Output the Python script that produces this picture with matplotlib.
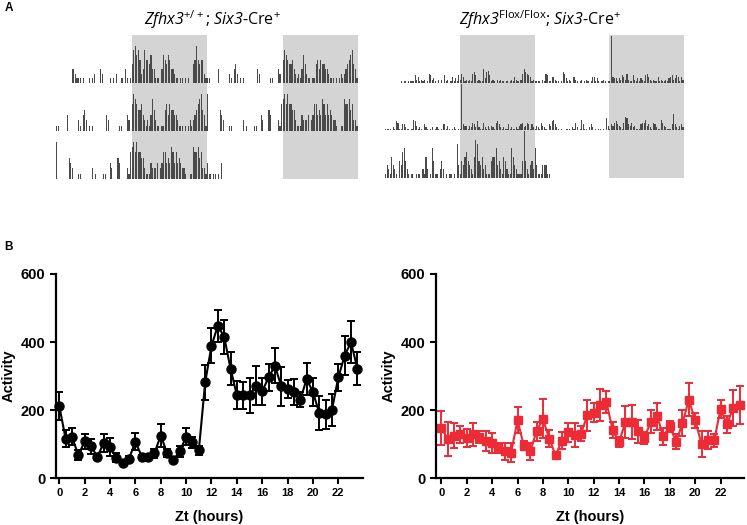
import numpy as np
import matplotlib
matplotlib.use('Agg')
import matplotlib.pyplot as plt
from matplotlib.patches import Rectangle

plt.rcParams['font.family'] = ['Liberation Sans', 'DejaVu Sans']
plt.rcParams['mathtext.fontset'] = 'custom'
plt.rcParams['mathtext.rm'] = 'Open Sans'
plt.rcParams['mathtext.sf'] = 'Open Sans:italic'  # italic incl. digits (gene names)

# ---- panel A: activity per 15-min bin, one string per recorded day (base-36 digits)
# day 1 starts late (string ends at 24 h), last day stops early (string starts at 0 h)
WT_DAY1 = ("3321110100" "0101200032" "0000101020" "01103101"
           "4786752375" "5463311103" "6546533211" "0110101004" "58545521")
WT_DAY2 = ("1100000300" "0000210342" "0101000000" "0032000000" "11000320"
           "5765445321" "2136421101" "1453544332" "1110101212" "34567431")
WT_DAY3 = ("7000000043" "2000110000" "0002010000" "1100320004" "30000215"
           "6757554421" "1132223023" "5534365353" "4322100116" "55645221")
WT_DAY4 = "3110110103"

KO_DAY1 = ("1011011115" "2412120165" "2310202051" "20141315"
           "2641212167" "5121193785" "1210212110" "1012142102" "69765412")
KO_DAY2 = ("1111021651" "1442110176" "3121042101" "2012101441" "31012101"
           "1v43313254" "2621152131" "3215642121" "1412112134" "52354142")
KO_DAY3 = ("1321532104" "3674210100" "1110215201" "7411024201" "01101083"
           "1435643215" "9843523111" "4557342154" "2117532111" "4b421342")
KO_DAY4 = "7311133311"

WT_DAYS = [WT_DAY1, WT_DAY2, WT_DAY3, WT_DAY4]
KO_DAYS = [KO_DAY1, KO_DAY2, KO_DAY3, KO_DAY4]

# ---- panel B: mean activity +/- SEM every 30 min
ZT = np.arange(0, 24, 0.5)
WT_MEAN = [211, 115, 121, 67, 108, 93, 63, 103, 92, 60, 44, 57, 107, 63, 63, 73,
           125, 73, 54, 78, 122, 105, 81, 281, 389, 448, 415, 322, 243, 243, 243, 272,
           255, 296, 330, 270, 262, 253, 230, 291, 253, 191, 187, 201, 296, 360, 400, 322]
WT_SEM = [41, 25, 25, 15, 22, 22, 6, 27, 26, 14, 5, 9, 26, 5, 5, 13,
          33, 12, 8, 15, 26, 17, 14, 52, 51, 47, 50, 48, 41, 39, 51, 57,
          39, 40, 51, 57, 27, 38, 22, 47, 41, 51, 43, 47, 39, 57, 63, 48]
KO_MEAN = [147, 115, 125, 129, 118, 129, 120, 108, 103, 88, 78, 75, 170, 95, 78, 137,
           174, 116, 67, 110, 134, 126, 130, 184, 192, 216, 224, 141, 106, 164, 164, 137,
           117, 166, 181, 123, 152, 106, 162, 230, 170, 100, 111, 111, 203, 158, 206, 215]
KO_SEM = [49, 50, 36, 25, 27, 34, 18, 29, 29, 15, 25, 29, 39, 13, 25, 27,
          57, 26, 10, 25, 27, 35, 22, 46, 28, 47, 33, 24, 14, 47, 50, 34,
          18, 35, 41, 25, 17, 22, 39, 49, 22, 37, 26, 19, 27, 25, 54, 57]

WT_TITLE = r'$\mathsf{Zfhx3}^{+/+}$; $\mathsf{Six3}$-Cre$^{+}$'
KO_TITLE = r'$\mathsf{Zfhx3}^{\mathrm{Flox/Flox}}$; $\mathsf{Six3}$-Cre$^{+}$'

RED = '#ec2b36'


def actogram(ax, days, peak):
    # double plotted: row n shows day n and day n+1, each row scaled to its own max
    ax.set_xlim(0, 48)
    ax.set_ylim(0, 3)
    for x0 in (12, 36):
        ax.add_patch(Rectangle((x0, 0), 12, 3, facecolor='#d4d4d4',
                               edgecolor='none', zorder=0))
    vals = [np.array([int(c, 36) for c in d], float) for d in days]
    for row in range(3):
        base = 2 - row
        pair = [(row, 0), (row + 1, 24)]
        rowmax = max(vals[d].max() for d, _ in pair)
        for d, shift in pair:
            v = vals[d]
            start = 96 - len(v) if d == 0 else 0
            x = shift + (start + np.arange(len(v))) * 0.25
            ax.bar(x, v / rowmax * peak, width=0.18, bottom=base, align='edge',
                   color='#4a4a4a', linewidth=0, zorder=2)
    ax.axis('off')


def profile(ax, mean, sem, color, marker, ms, xlim):
    ax.errorbar(ZT, mean, yerr=sem, color=color, marker=marker, ms=ms,
                lw=1.5, elinewidth=1.4, capsize=3, capthick=1.4, clip_on=False)
    ax.set_xlim(*xlim)
    ax.set_ylim(0, 600)
    ax.set_xticks(range(0, 24, 2))
    ax.set_yticks([0, 200, 400, 600])
    for s in ('top', 'right'):
        ax.spines[s].set_visible(False)
    for s in ('left', 'bottom'):
        ax.spines[s].set_linewidth(1.6)
    ax.tick_params(width=1.5, length=4)
    ax.tick_params(axis='x', labelsize=8)
    ax.tick_params(axis='y', labelsize=10.5)
    for lab in ax.get_xticklabels() + ax.get_yticklabels():
        lab.set_fontweight('bold')
    ax.set_xlabel('Zt (hours)', fontsize=10.5, fontweight='bold', labelpad=8)
    ax.set_ylabel('Activity', fontsize=10.5, fontweight='bold', labelpad=4)


fig = plt.figure(figsize=(7.47, 5.25), dpi=100)

ax_wt = fig.add_axes([0.075, 0.659, 0.4043, 0.2743])
actogram(ax_wt, WT_DAYS, 0.78)
ax_ko = fig.add_axes([0.5154, 0.661, 0.4003, 0.2724])
actogram(ax_ko, KO_DAYS, 0.98)

fig.text(0.284, 0.963, WT_TITLE, ha='center', va='center', fontsize=11.5,
         family='Open Sans')
fig.text(0.723, 0.963, KO_TITLE, ha='center', va='center', fontsize=11.5,
         family='Open Sans')

ax_l = fig.add_axes([0.075, 0.0895, 0.411, 0.3886])
profile(ax_l, WT_MEAN, WT_SEM, 'black', 'o', 6.5, (-0.26, 23.95))
ax_r = fig.add_axes([0.5837, 0.0895, 0.412, 0.3886])
profile(ax_r, KO_MEAN, KO_SEM, RED, 's', 5.8, (-0.42, 23.83))

fig.text(0.006, 0.985, 'A', fontsize=8.5, fontweight='bold', va='center')
fig.text(0.006, 0.530, 'B', fontsize=8.5, fontweight='bold', va='center')

fig.savefig('out.png', dpi=100)
